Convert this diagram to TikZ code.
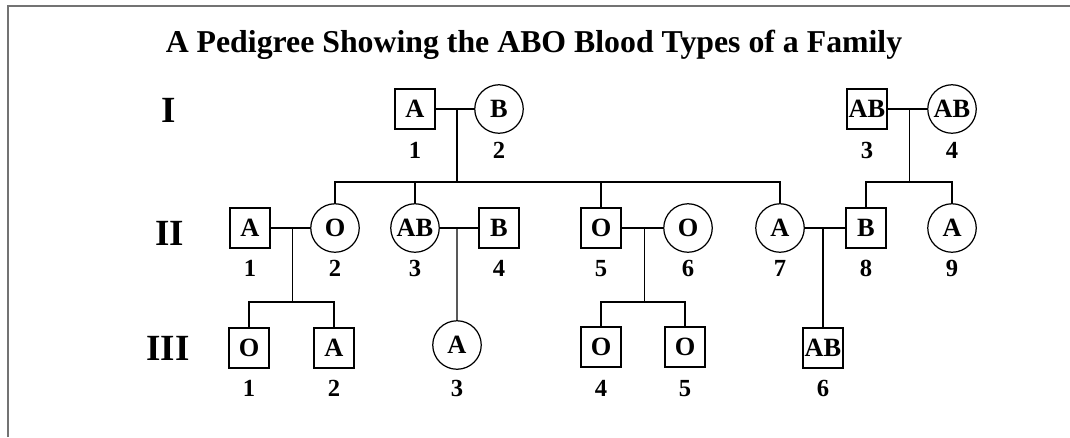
\documentclass[tikz,border=0pt]{standalone}
\usepackage{fontspec}
\setmainfont{Liberation Serif}
\usepackage{tikz}
\usetikzlibrary{calc}

\begin{document}
\begin{tikzpicture}[
		x=0.02cm, y=-0.02cm,
		line width=0.7pt,
		every node/.style={inner sep=0pt, text height=10pt, text depth=0pt, font=\bfseries\fontsize{15}{15}\selectfont},
		male/.style={rectangle, draw, minimum size=0.8cm},
		female/.style={circle, draw, minimum size=0.97cm},
		num/.style={text height=9.5pt, font=\bfseries\fontsize{14}{14}\selectfont},
		gen/.style={text height=14pt, font=\bfseries\fontsize{21}{21}\selectfont}
	]
  \useasboundingbox (0,0) rectangle (1070,437);
  \draw[black!55, line width=1.1pt] (8,437) -- (8,6) -- (1070,6);
  \node (title) [text height=12pt, text depth=4pt, font=\bfseries\fontsize{18.1}{18}\selectfont] at (534,45) {A Pedigree Showing the ABO Blood Types of a Family};
  \node (g1) [gen] at (169,110) {I};
  \node (g2) [gen] at (170,233) {II};
  \node (g3) [gen] at (168,348) {III};
  \node (I1) [male] at (415,109) {A};
  \node (I2) [female] at (499,109) {B};
  \node (I3) [male] at (867,109) {AB};
  \node (I4) [female] at (952,109) {AB};
  \node (II1) [male] at (250,228) {A};
  \node (II2) [female] at (335,228) {O};
  \node (II3) [female] at (415,228) {AB};
  \node (II4) [male] at (499,228) {B};
  \node (II5) [male] at (601,228) {O};
  \node (II6) [female] at (688,228) {O};
  \node (II7) [female] at (780,228) {A};
  \node (II8) [male] at (866,228) {B};
  \node (II9) [female] at (952,228) {A};
  \node (III1) [male] at (249,348) {O};
  \node (III2) [male] at (334,348) {A};
  \node (III3) [female] at (457,345) {A};
  \node (III4) [male] at (601,347) {O};
  \node (III5) [male] at (685,347) {O};
  \node (III6) [male] at (823,348) {AB};
  \node (I1n) [num] at (415,150) {1};
  \node (I2n) [num] at (499,150) {2};
  \node (I3n) [num] at (867,150) {3};
  \node (I4n) [num] at (952,150) {4};
  \node (II1n) [num] at (250,268) {1};
  \node (II2n) [num] at (335,268) {2};
  \node (II3n) [num] at (415,268) {3};
  \node (II4n) [num] at (499,268) {4};
  \node (II5n) [num] at (601,268) {5};
  \node (II6n) [num] at (688,268) {6};
  \node (II7n) [num] at (780,268) {7};
  \node (II8n) [num] at (866,268) {8};
  \node (II9n) [num] at (952,268) {9};
  \node (III1n) [num] at (249,388) {1};
  \node (III2n) [num] at (334,388) {2};
  \node (III3n) [num] at (457,388) {3};
  \node (III4n) [num] at (601,388) {4};
  \node (III5n) [num] at (685,388) {5};
  \node (III6n) [num] at (823,388) {6};
  \coordinate (m1) at ($(I1)!0.5!(I2)$);
  \coordinate (m2) at ($(I3)!0.5!(I4)$);
  \coordinate (m3) at ($(II1)!0.5!(II2)$);
  \coordinate (m4) at ($(II3)!0.5!(II4)$);
  \coordinate (m5) at ($(II5)!0.5!(II6)$);
  \coordinate (m6) at ($(II7)!0.5!(II8)$);
  \coordinate (s1) at (m1 |- 0,182);
  \coordinate (s2) at (m2 |- 0,182);
  \coordinate (s3) at (m3 |- 0,302);
  \coordinate (s5) at (m5 |- 0,302);
  \draw (I1) -- (I2);
  \draw (I3) -- (I4);
  \draw (II1) -- (II2);
  \draw (II3) -- (II4);
  \draw (II5) -- (II6);
  \draw (II7) -- (II8);
  \draw (m1) -- (s1);
  \draw (II2) |- (s1) -| (II7);
  \draw (II3) -- (II3 |- s1);
  \draw (II5) -- (II5 |- s1);
  \draw (m2) -- (s2);
  \draw (II8) |- (s2) -| (II9);
  \draw (m3) -- (s3);
  \draw (III1) |- (s3) -| (III2);
  \draw (m4) -- (III3);
  \draw (m5) -- (s5);
  \draw (III4) |- (s5) -| (III5);
  \draw (m6) -- (III6);
\end{tikzpicture}
\end{document}
